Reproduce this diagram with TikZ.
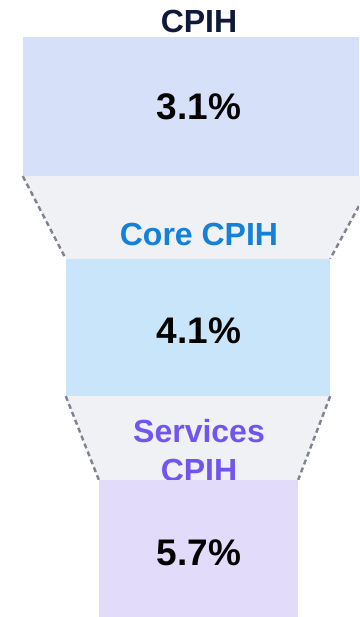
\documentclass[tikz,border=0pt]{standalone}
\usepackage{fontspec}
\setmainfont{Liberation Sans}
\usetikzlibrary{backgrounds}
\definecolor{boxA}{HTML}{D6E0F8}
\definecolor{boxB}{HTML}{C9E5F9}
\definecolor{boxC}{HTML}{E2DCFA}
\definecolor{trapc}{HTML}{F0F1F4}
\definecolor{navy}{HTML}{0F1A3A}
\definecolor{coreblue}{HTML}{1480D8}
\definecolor{svcpurple}{HTML}{7255EE}
\definecolor{dashgray}{HTML}{80838F}
\tikzset{
  valbox/.style={rectangle, inner sep=0pt, draw=none, font=\fontsize{37}{42}\selectfont\bfseries, text=black},
  lbl/.style={inner sep=0pt, anchor=base, font=\fontsize{32}{39}\selectfont\bfseries},
  funnel/.style={dashgray, line width=2.4pt, dash pattern=on 5pt off 3.5pt},
}
\begin{document}
\begin{tikzpicture}[x=1pt,y=-1pt]
\useasboundingbox (0,0) rectangle (359,617);
\clip (0,0) rectangle (359,617);
\node[valbox, fill=boxA, minimum width=352pt, minimum height=139pt] (b1) at (199,106.5) {};
\node[valbox, fill=boxB, minimum width=264pt, minimum height=137pt] (b2) at (198,327.5) {};
\node[valbox, fill=boxC, minimum width=199pt, minimum height=140pt] (b3) at (198.5,550) {};
\begin{scope}[on background layer]
\fill[white] (0,0) rectangle (359,617);
\fill[trapc] (b1.south west) -- (b1.south east) -- (b2.north east) -- (b2.north west) -- cycle;
\fill[trapc] (b2.south west) -- (b2.south east) -- (b3.north east) -- (b3.north west) -- cycle;
\node[lbl, text=coreblue] (core) at (199,245) {Core CPIH};
\node[lbl, text=svcpurple] (svc1) at (199,442) {Services};
\node[lbl, text=svcpurple] (svc2) at (199,481) {CPIH};
\end{scope}
\node[lbl, text=navy] (title) at (199,33) {CPIH};
\node[valbox, anchor=base] (v1) at (199,120) {3.1\%};
\node[valbox, anchor=base] (v2) at (199,343) {4.1\%};
\node[valbox, anchor=base] (v3) at (199,565) {5.7\%};
\draw[funnel] (b1.south west) -- (b2.north west);
\draw[funnel] (b1.south east) -- (b2.north east);
\draw[funnel] (b2.south west) -- (b3.north west);
\draw[funnel] (b2.south east) -- (b3.north east);
\end{tikzpicture}
\end{document}
